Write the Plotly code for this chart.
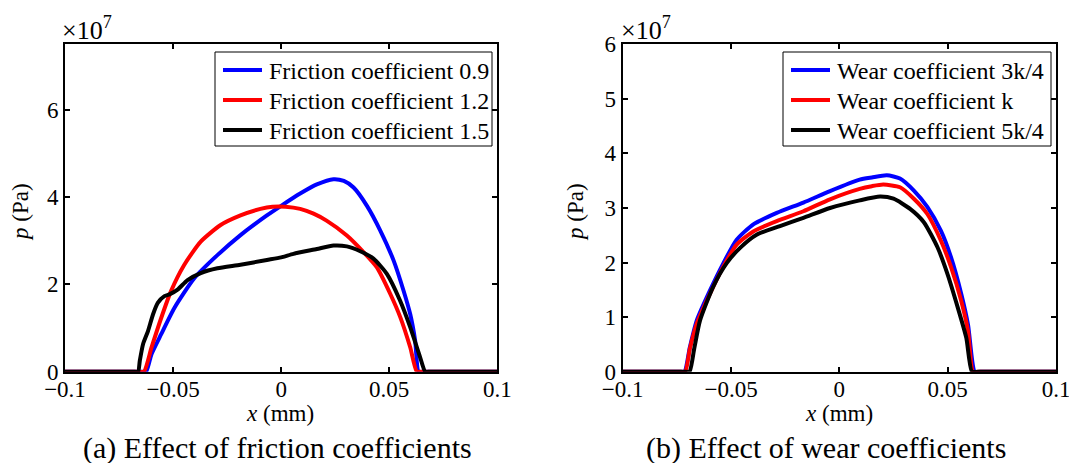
import plotly.graph_objects as go

# ---- (a) friction coefficient study: contact pressure p (x 1e7 Pa) vs x (mm) ----
fric_labels = ["Friction coefficient 0.9", "Friction coefficient 1.2", "Friction coefficient 1.5"]

fric09_x = [-0.1, -0.085, -0.0650, -0.0625, -0.0600, -0.0555, -0.0494, -0.0402, -0.0295,
            -0.0188, -0.0066, 0.0, 0.0088, 0.0165, 0.0242, 0.0290, 0.0335, 0.0397, 0.0458,
            0.0520, 0.0566, 0.0597, 0.0620, 0.0636, 0.0660, 0.085, 0.1]
fric09_p = [0.0, 0.0, 0.0, 0.0, 0.40, 0.86, 1.46, 2.14, 2.67,
            3.13, 3.58, 3.80, 4.08, 4.29, 4.41, 4.37, 4.22, 3.80, 3.24,
            2.55, 1.86, 1.32, 0.71, 0.0, 0.0, 0.0, 0.0]

fric12_x = [-0.1, -0.085, -0.0660, -0.0635, -0.0600, -0.0555, -0.0510, -0.0448, -0.0372,
            -0.0280, -0.0188, -0.0096, -0.0040, 0.0020, 0.0088, 0.0150, 0.0210, 0.0304,
            0.0381, 0.0443, 0.0505, 0.0551, 0.0597, 0.0628, 0.0650, 0.085, 0.1]
fric12_p = [0.0, 0.0, 0.0, 0.0, 0.55, 1.23, 1.84, 2.45, 2.98,
            3.36, 3.58, 3.73, 3.78, 3.78, 3.73, 3.62, 3.46, 3.12,
            2.74, 2.39, 1.78, 1.25, 0.56, 0.0, 0.0, 0.0, 0.0]

fric15_x = [-0.1, -0.085, -0.0685, -0.0662, -0.0654, -0.0639, -0.0616, -0.0593, -0.0570,
            -0.0540, -0.0517, -0.0479, -0.0433, -0.0372, -0.0295, -0.0188, -0.0066, 0.0,
            0.0057, 0.0165, 0.0242, 0.0304, 0.0366, 0.0427, 0.0489, 0.0550, 0.0597, 0.0643,
            0.0667, 0.0690, 0.085, 0.1]
fric15_p = [0.0, 0.0, 0.0, 0.0, 0.25, 0.63, 0.93, 1.31, 1.58,
            1.73, 1.77, 1.88, 2.10, 2.26, 2.37, 2.45, 2.56, 2.62,
            2.70, 2.81, 2.89, 2.87, 2.76, 2.59, 2.24, 1.63, 1.02, 0.33,
            0.0, 0.0, 0.0, 0.0]

# ---- (b) wear coefficient study ----
wear_labels = ["Wear coefficient 3k/4", "Wear coefficient k", "Wear coefficient 5k/4"]

wear34_x = [-0.1, -0.085, -0.0740, -0.0715, -0.0690, -0.0658, -0.0597, -0.0535, -0.0474,
            -0.0397, -0.0289, -0.0166, -0.0043, 0.0094, 0.0150, 0.0219, 0.0280, 0.0344,
            0.0406, 0.0469, 0.0516, 0.0563, 0.0594, 0.0625, 0.0650, 0.085, 0.1]
wear34_p = [0.0, 0.0, 0.0, 0.0, 0.45, 0.94, 1.49, 1.99, 2.42,
            2.70, 2.91, 3.10, 3.31, 3.52, 3.56, 3.60, 3.54, 3.32,
            3.02, 2.58, 2.09, 1.42, 0.86, 0.0, 0.0, 0.0, 0.0]

wear1_x = [-0.1, -0.085, -0.0737, -0.0712, -0.0690, -0.0658, -0.0597, -0.0535, -0.0474,
           -0.0397, -0.0289, -0.0166, -0.0043, 0.0094, 0.0150, 0.0203, 0.0280, 0.0344,
           0.0406, 0.0469, 0.0516, 0.0563, 0.0594, 0.0617, 0.0642, 0.085, 0.1]
wear1_p = [0.0, 0.0, 0.0, 0.0, 0.42, 0.88, 1.43, 1.93, 2.33,
           2.57, 2.76, 2.94, 3.16, 3.35, 3.40, 3.43, 3.38, 3.17,
           2.89, 2.40, 1.91, 1.29, 0.74, 0.0, 0.0, 0.0, 0.0]

wear54_x = [-0.1, -0.085, -0.0717, -0.0692, -0.0670, -0.0643, -0.0582, -0.0520, -0.0458,
            -0.0382, -0.0274, -0.0166, -0.0043, 0.0094, 0.0188, 0.0250, 0.0328, 0.0390,
            0.0453, 0.0500, 0.0547, 0.0586, 0.0612, 0.0637, 0.085, 0.1]
wear54_p = [0.0, 0.0, 0.0, 0.0, 0.42, 0.94, 1.56, 1.99, 2.27,
            2.51, 2.67, 2.82, 3.00, 3.14, 3.21, 3.17, 2.98, 2.74,
            2.28, 1.78, 1.17, 0.62, 0.0, 0.0, 0.0, 0.0]

line_colors = ["#0000FF", "#FF0000", "#000000"]
x_ticks = [-0.1, -0.05, 0, 0.05, 0.1]
x_tick_text = ["\u22120.1", "\u22120.05", "0", "0.05", "0.1"]

FONT = "Liberation Serif"
W, H = 1069, 463
LINE_W = 4


def px_x(v):
    return v / W


def px_y(v):
    return 1 - v / H


fig = go.Figure()

fric_sets = [(fric09_x, fric09_p), (fric12_x, fric12_p), (fric15_x, fric15_p)]
for (xs, ps), name, col in zip(fric_sets, fric_labels, line_colors):
    fig.add_trace(go.Scatter(x=xs, y=ps, name=name, mode="lines",
                             line=dict(color=col, width=LINE_W, shape="spline", smoothing=0.6),
                             xaxis="x", yaxis="y", showlegend=False))

wear_sets = [(wear34_x, wear34_p), (wear1_x, wear1_p), (wear54_x, wear54_p)]
for (xs, ps), name, col in zip(wear_sets, wear_labels, line_colors):
    fig.add_trace(go.Scatter(x=xs, y=ps, name=name, mode="lines",
                             line=dict(color=col, width=LINE_W, shape="spline", smoothing=0.6),
                             xaxis="x2", yaxis="y2", showlegend=False))

axis_common = dict(
    showline=True, linecolor="black", linewidth=2, mirror="ticks",
    ticks="inside", ticklen=5, tickwidth=1.5, tickcolor="black",
    showgrid=False, zeroline=False, automargin=False,
    ticklabeloverflow="allow",
    tickfont=dict(family=FONT, size=23, color="black"),
)

fig.update_layout(
    width=W, height=H,
    autosize=False,
    margin=dict(l=0, r=0, t=0, b=0, pad=0, autoexpand=False),
    paper_bgcolor="white", plot_bgcolor="white",
    font=dict(family=FONT, color="black"),
    showlegend=False,
    xaxis=dict(domain=[px_x(65), px_x(497.3)], range=[-0.1, 0.1],
               tickvals=x_ticks, ticktext=x_tick_text, anchor="y",
               ticklabelstandoff=-4, **axis_common),
    yaxis=dict(domain=[px_y(371.7), px_y(44.3)], range=[0, 7.5],
               tickvals=[0, 2, 4, 6], anchor="x", **axis_common),
    xaxis2=dict(domain=[px_x(622.7), px_x(1056)], range=[-0.1, 0.1],
                tickvals=x_ticks, ticktext=x_tick_text, anchor="y2",
                ticklabelstandoff=-4, **axis_common),
    yaxis2=dict(domain=[px_y(371.7), px_y(44.3)], range=[0, 6],
                tickvals=[0, 1, 2, 3, 4, 5, 6], anchor="x2", **axis_common),
)

annotations = []
shapes = []

# axis titles and panel captions
for cx, title_x, cap_x, cap in [
    (20, 280, 277, "(a) Effect of friction coefficients"),
    (575, 839, 826, "(b) Effect of wear coefficients"),
]:
    annotations.append(dict(x=px_x(cx), y=px_y(212), xref="paper", yref="paper",
                            xanchor="center", yanchor="middle",
                            text="<i>p</i> (Pa)", textangle=-90, showarrow=False,
                            font=dict(family=FONT, size=23, color="black")))
    annotations.append(dict(x=px_x(title_x), y=px_y(413), xref="paper", yref="paper",
                            xanchor="center", yanchor="middle",
                            text="<i>x</i> (mm)", showarrow=False,
                            font=dict(family=FONT, size=23, color="black")))
    annotations.append(dict(x=px_x(cap_x), y=px_y(448), xref="paper", yref="paper",
                            xanchor="center", yanchor="middle",
                            text=cap, showarrow=False,
                            font=dict(family=FONT, size=30, color="black")))

# exponent labels above each y axis
for lx in (60, 619):
    annotations.append(dict(x=px_x(lx), y=px_y(47), xref="paper", yref="paper",
                            xanchor="left", yanchor="bottom",
                            text="\u00d710<sup>7</sup>", showarrow=False,
                            font=dict(family=FONT, size=26, color="black")))

# boxed legends: frame, key line, label per entry
legend_boxes = [
    dict(left=215, right=492, labels=fric_labels),
    dict(left=783, right=1051, labels=wear_labels),
]
row_y = [70, 100, 130]
for box in legend_boxes:
    shapes.append(dict(type="rect", xref="paper", yref="paper",
                       x0=px_x(box["left"]), x1=px_x(box["right"]),
                       y0=px_y(146), y1=px_y(52),
                       fillcolor="white", line=dict(color="black", width=1), layer="above"))
    for label, col, ry in zip(box["labels"], line_colors, row_y):
        shapes.append(dict(type="line", xref="paper", yref="paper",
                           x0=px_x(box["left"] + 8), x1=px_x(box["left"] + 47),
                           y0=px_y(ry), y1=px_y(ry),
                           line=dict(color=col, width=4), layer="above"))
        annotations.append(dict(x=px_x(box["left"] + 52), y=px_y(ry + 1),
                                xref="paper", yref="paper",
                                xanchor="left", yanchor="middle",
                                text=label, showarrow=False,
                                font=dict(family=FONT, size=24, color="black")))

fig.update_layout(annotations=annotations, shapes=shapes)

fig.write_html("out.html")
